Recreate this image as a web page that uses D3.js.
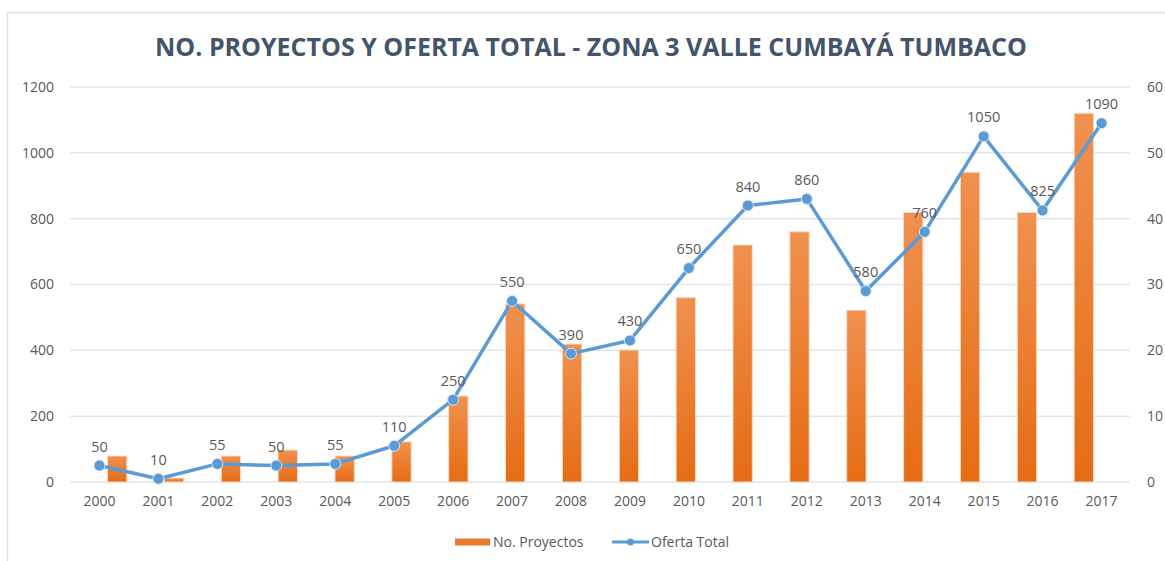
<!DOCTYPE html>
<html lang="es">
<head>
    <meta charset="UTF-8">
    <title>No. Proyectos y Oferta Total</title>
    <script src="https://d3js.org/d3.v7.min.js"></script>
    <style>
        body { margin: 0; background: #fff; }
        svg text { font-family: "Open Sans", "DejaVu Sans", sans-serif; }
    </style>
</head>
<body>
    <svg id="chart"></svg>

    <script>
        // datos
        const years = ['2000','2001','2002','2003','2004','2005','2006','2007','2008',
                       '2009','2010','2011','2012','2013','2014','2015','2016','2017'];
        const proyectos = [79, 12, 79, 97, 79, 122, 261, 541, 419, 401, 560, 720, 760, 522, 819, 941, 819, 1120];
        const oferta = [2.5, 0.5, 2.75, 2.5, 2.75, 5.5, 12.5, 27.5, 19.5, 21.5, 32.5, 42, 43, 29, 38, 52.5, 41.25, 54.5];
        const ofertaLabels = ['50','10','55','50','55','110','250','550','390','430','650','840','860','580','760','1050','825','1090'];
        const leftTicks = [0, 200, 400, 600, 800, 1000, 1200];
        const rightTicks = [0, 10, 20, 30, 40, 50, 60];

        const W = 1165, H = 561;
        const margin = { top: 87, right: 34, bottom: 79, left: 70 };
        const width = W - margin.left - margin.right;
        const height = H - margin.top - margin.bottom;

        const svg = d3.select('#chart')
            .attr('width', W)
            .attr('height', H);

        // marco
        svg.append('rect')
            .attr('x', 7.5).attr('y', 12.5)
            .attr('width', W + 20).attr('height', H + 20)
            .attr('fill', 'none')
            .attr('stroke', '#dfe3e8')
            .attr('stroke-width', 1.5);

        svg.append('text')
            .attr('x', 591)
            .attr('y', 56)
            .attr('text-anchor', 'middle')
            .attr('font-size', 25)
            .attr('font-weight', 'bold')
            .attr('fill', '#44546a')
            .text('NO. PROYECTOS Y OFERTA TOTAL  - ZONA 3 VALLE CUMBAYÁ TUMBACO');

        const defs = svg.append('defs');
        const grad = defs.append('linearGradient')
            .attr('id', 'barGrad')
            .attr('x1', 0).attr('y1', 0).attr('x2', 0).attr('y2', 1);
        grad.append('stop').attr('offset', '0%').attr('stop-color', '#f0914f');
        grad.append('stop').attr('offset', '100%').attr('stop-color', '#e56c14');

        const g = svg.append('g')
            .attr('transform', `translate(${margin.left},${margin.top})`);

        const x = d3.scaleBand().domain(years).range([0, width]).padding(0.66);
        const xc = d3.scaleBand().domain(years).range([0, width]);
        const yL = d3.scaleLinear().domain([0, 1200]).range([height, 0]);
        const yR = d3.scaleLinear().domain([0, 60]).range([height, 0]);

        // líneas de cuadrícula
        g.append('g')
            .selectAll('line')
            .data(leftTicks)
            .enter().append('line')
            .attr('x1', 0).attr('x2', width - 1)
            .attr('y1', d => yL(d)).attr('y2', d => yL(d))
            .attr('stroke', '#e2e6ec')
            .attr('stroke-width', 1.5);

        // ejes
        const axisL = g.append('g')
            .call(d3.axisLeft(yL).tickValues(leftTicks).tickFormat(d3.format('d')).tickSize(0).tickPadding(16));
        const axisR = g.append('g')
            .attr('transform', `translate(${width},0)`)
            .call(d3.axisRight(yR).tickValues(rightTicks).tickSize(0).tickPadding(16));
        const axisX = g.append('g')
            .attr('transform', `translate(0,${height})`)
            .call(d3.axisBottom(xc).tickSize(0).tickPadding(14));

        [axisL, axisR, axisX].forEach(a => {
            a.select('.domain').remove();
            a.selectAll('text')
                .attr('fill', '#595959')
                .attr('font-size', 14)
                .style('font-family', '"Open Sans", sans-serif');
        });

        // barras
        g.selectAll('.bar')
            .data(proyectos)
            .enter().append('rect')
            .attr('class', 'bar')
            .attr('x', (d, i) => x(years[i]))
            .attr('width', x.bandwidth())
            .attr('y', d => yL(d))
            .attr('height', d => height - yL(d))
            .attr('fill', 'url(#barGrad)')
            .attr('stroke', '#fbd9c0')
            .attr('stroke-width', 1);

        // línea
        const cx = (d, i) => xc(years[i]) + xc.bandwidth() / 2;
        const line = d3.line()
            .x(cx)
            .y(d => yR(d));

        g.append('path')
            .datum(oferta)
            .attr('d', line)
            .attr('fill', 'none')
            .attr('stroke', '#5b9bd5')
            .attr('stroke-width', 3.5)
            .attr('stroke-linejoin', 'round');

        g.selectAll('.dot')
            .data(oferta)
            .enter().append('circle')
            .attr('class', 'dot')
            .attr('cx', cx)
            .attr('cy', d => yR(d))
            .attr('r', 5.5)
            .attr('fill', '#5b9bd5')
            .attr('stroke', '#d8e6f4')
            .attr('stroke-width', 1);

        g.selectAll('.lbl')
            .data(oferta)
            .enter().append('text')
            .attr('class', 'lbl')
            .attr('x', cx)
            .attr('y', d => yR(d) - 14)
            .attr('text-anchor', 'middle')
            .attr('font-size', 14.5)
            .attr('fill', '#595959')
            .text((d, i) => ofertaLabels[i]);

        // leyenda
        const leg = svg.append('g').attr('transform', 'translate(455,542)');
        leg.append('rect')
            .attr('x', 0).attr('y', -3.5)
            .attr('width', 35).attr('height', 7)
            .attr('fill', '#e8782c');
        leg.append('text')
            .attr('x', 38).attr('y', 5)
            .attr('font-size', 14)
            .attr('fill', '#595959')
            .text('No. Proyectos');
        leg.append('line')
            .attr('x1', 157).attr('x2', 194)
            .attr('y1', 0).attr('y2', 0)
            .attr('stroke', '#5b9bd5').attr('stroke-width', 3);
        leg.append('circle')
            .attr('cx', 175.5).attr('cy', 0).attr('r', 3.5)
            .attr('fill', '#5b9bd5');
        leg.append('text')
            .attr('x', 196).attr('y', 5)
            .attr('font-size', 14)
            .attr('fill', '#595959')
            .text('Oferta Total');
    </script>
</body>
</html>
